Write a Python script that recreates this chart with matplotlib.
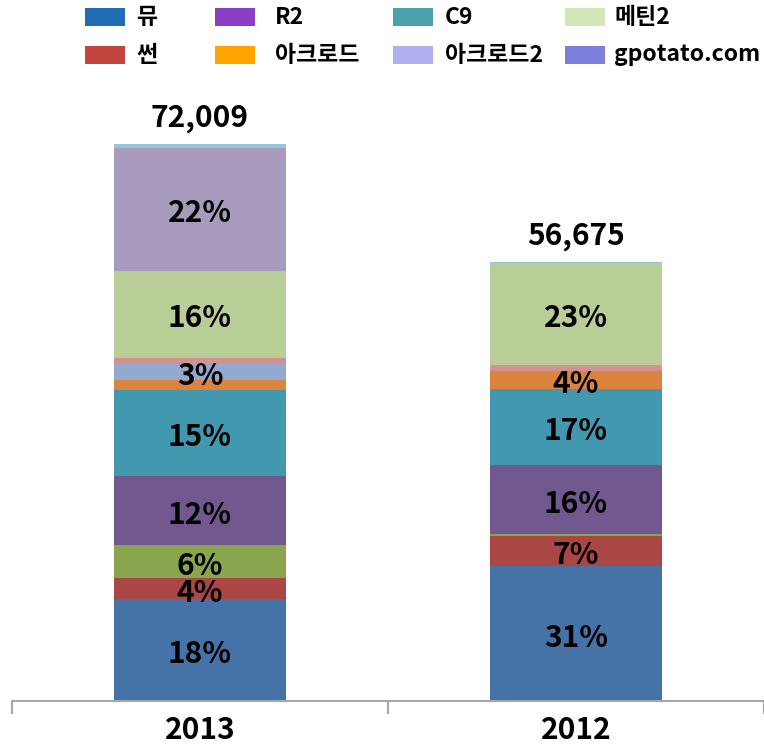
import matplotlib
matplotlib.use('Agg')
import matplotlib.pyplot as plt
from matplotlib.patches import Rectangle
import numpy as np

plt.rcParams['font.family'] = ['Noto Sans CJK KR', 'DejaVu Sans']
plt.rcParams['font.weight'] = 'bold'

years = ['2013', '2012']

# stacked segments, bottom to top, values for [2013, 2012]
seg_values = [
    [13190, 17430],
    [2715, 3873],
    [4267, 258],
    [8921, 8908],
    [11120, 9812],
    [1293, 2324],
    [2069, 0],
    [776, 775],
    [11249, 13168],
    [15903, 0],
    [506, 127],
]
seg_labels = [
    ['18%', '31%'],
    ['4%', '7%'],
    ['6%', ''],
    ['12%', '16%'],
    ['15%', '17%'],
    ['', '4%'],
    ['3%', ''],
    ['', ''],
    ['16%', '23%'],
    ['22%', ''],
    ['', ''],
]
seg_colors = ['#4572A7', '#AA4643', '#89A54E', '#71588F', '#4198AF', '#DB843D',
              '#93A9CF', '#D19392', '#B9CD96', '#A99BBD', '#92C5D7']

legend_names = ['뮤', '썬', 'R2', '아크로드', 'C9', '아크로드2', '메틴2', 'gpotato.com']
legend_colors = ['#1F6BB4', '#C3443F', '#8B3FC6', '#FFA500', '#4AA2AA', '#B0B0EE',
                 '#D3E7B9', '#7B7FDB']

W, H = 764, 744
fig = plt.figure(figsize=(W / 100, H / 100), dpi=100)

ymax = 80000
ax_left, ax_right, base = 12, 764, 701
ax_h = ymax / 129.2
ax = fig.add_axes([ax_left / W, (H - base) / H, (ax_right - ax_left) / W, ax_h / H])

x = np.arange(len(years))
bottom = np.zeros(len(years))
for vals, labs, col in zip(seg_values, seg_labels, seg_colors):
    ax.bar(x, vals, width=0.455, bottom=bottom, color=col, linewidth=0)
    for xi, v, b, lab in zip(x, vals, bottom, labs):
        if lab:
            ax.annotate(lab, (xi, b + v / 2), xytext=(0, -3), textcoords='offset points',
                        ha='center', va='center', fontsize=21.5, fontweight='bold')
    bottom += np.array(vals)

for xi, tot in zip(x, bottom):
    ax.annotate(f'{int(tot):,}', (xi, tot), xytext=(0, 8), textcoords='offset points',
                ha='center', va='bottom', fontsize=21.5, fontweight='bold')

ax.set_xlim(-0.5, (764 - 205) / 386)
ax.set_ylim(0, ymax)
for s in ['left', 'right', 'top']:
    ax.spines[s].set_visible(False)
ax.spines['bottom'].set_color('#A6A6A6')
ax.spines['bottom'].set_linewidth(1.5)
ax.set_yticks([])
ax.set_xticks(x)
ax.set_xticklabels(years, fontsize=21.5, fontweight='bold')
ax.tick_params(axis='x', which='major', length=0, pad=10)
ax.set_xticks([-0.5, 0.5, 1.5], minor=True)
ax.tick_params(axis='x', which='minor', length=9, width=1.5, color='#A6A6A6')

# legend, laid out in 4 columns x 2 rows
patch_x = [85, 215, 393, 565]
text_x = [136, 275, 445, 614]
row_y = [17, 55]
for i, (name, col) in enumerate(zip(legend_names, legend_colors)):
    c, r = i // 2, i % 2
    fig.patches.append(Rectangle((patch_x[c] / W, 1 - (row_y[r] + 9) / H), 40 / W, 18 / H,
                                 transform=fig.transFigure, facecolor=col, edgecolor='none'))
    fig.text(text_x[c] / W, 1 - row_y[r] / H, name, fontsize=16.5, fontweight='bold',
             ha='left', va='center')

fig.savefig('out.png', dpi=100)
